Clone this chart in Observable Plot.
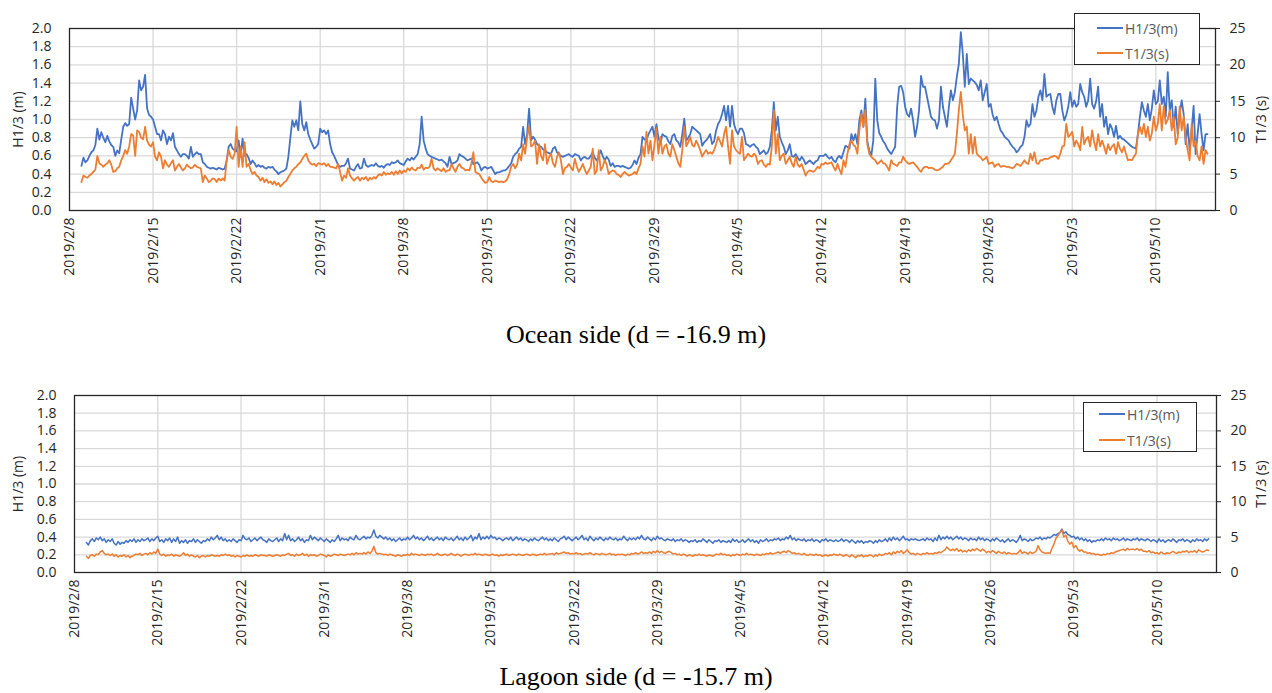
<!DOCTYPE html>
<html><head><meta charset="utf-8">
<script src="https://cdn.jsdelivr.net/npm/d3@7"></script>
<script src="https://cdn.jsdelivr.net/npm/@observablehq/plot@0.6"></script>
<style>
body{margin:0;background:#fff;}
#wrap{position:relative;width:1272px;}
.title{font-family:"Liberation Serif","Times New Roman",serif;font-size:26px;text-align:center;color:#000;}
.legend{position:absolute;border:1.3px solid #262626;background:#fff;box-sizing:border-box;font-family:"Open Sans",sans-serif;font-size:14px;color:#595959;}
.legend .row{position:absolute;left:0;height:20px;display:flex;align-items:center;}
.legend .sw{display:inline-block;width:26px;height:2px;margin-right:2px;}
</style></head>
<body><div id="wrap"></div>
<script>
// ---- data ----
const startDate = "2019-02-09T00:00:00Z";   // first sample
const stepHours = 4;                          // sampling interval
const xDomain = ["2019-02-08", "2019-05-15"];
const dateTicks = ["2019/2/8","2019/2/15","2019/2/22","2019/3/1","2019/3/8","2019/3/15","2019/3/22","2019/3/29","2019/4/5","2019/4/12","2019/4/19","2019/4/26","2019/5/3","2019/5/10"];
const hTicks = [0,0.2,0.4,0.6,0.8,1.0,1.2,1.4,1.6,1.8,2.0];
const tTicks = [0,5,10,15,20,25];
const seriesNames = ["H1/3(m)","T1/3(s)"];
const seriesColors = ["#4472C4","#ED7D31"];
const panelTitles = ["Ocean side (d = -16.9 m)","Lagoon side (d = -15.7 m)"];

const oceanH = [
0.49,0.58,0.53,0.55,0.60,0.64,
0.66,0.72,0.90,0.78,0.86,0.80,
0.75,0.82,0.76,0.72,0.70,0.60,
0.66,0.63,0.78,0.92,0.96,0.93,
0.95,1.24,1.12,1.00,1.10,1.43,
1.32,1.36,1.49,1.12,1.05,1.03,
1.00,0.92,0.84,0.84,0.77,0.88,
0.84,0.73,0.81,0.77,0.85,0.70,
0.66,0.62,0.59,0.62,0.62,0.60,
0.57,0.70,0.59,0.62,0.64,0.62,
0.62,0.53,0.51,0.48,0.47,0.46,
0.47,0.46,0.45,0.47,0.46,0.45,
0.46,0.55,0.70,0.73,0.68,0.66,
0.65,0.77,0.59,0.79,0.60,0.62,
0.58,0.51,0.55,0.52,0.48,0.50,
0.48,0.49,0.47,0.46,0.48,0.47,
0.48,0.45,0.43,0.40,0.42,0.43,
0.44,0.46,0.59,0.80,0.99,0.92,
0.99,0.88,1.20,0.95,0.88,0.97,
0.84,0.78,0.73,0.68,0.70,0.73,
0.90,0.86,0.88,0.84,0.88,0.73,
0.64,0.60,0.55,0.50,0.48,0.49,
0.49,0.52,0.57,0.46,0.45,0.44,
0.48,0.51,0.46,0.47,0.57,0.50,
0.48,0.49,0.50,0.49,0.52,0.49,
0.48,0.49,0.47,0.50,0.51,0.50,
0.53,0.52,0.53,0.55,0.52,0.51,
0.50,0.54,0.57,0.55,0.58,0.56,
0.59,0.62,0.73,1.03,0.77,0.68,
0.62,0.60,0.59,0.58,0.57,0.56,
0.55,0.56,0.54,0.52,0.48,0.59,
0.51,0.52,0.53,0.55,0.62,0.60,
0.59,0.57,0.55,0.56,0.57,0.51,
0.52,0.53,0.50,0.44,0.47,0.48,
0.46,0.47,0.48,0.44,0.40,0.42,
0.42,0.43,0.44,0.44,0.46,0.49,
0.52,0.59,0.62,0.64,0.68,0.70,
0.92,0.73,0.84,1.12,0.77,0.81,
0.78,0.73,0.71,0.70,0.67,0.66,
0.64,0.63,0.62,0.68,0.70,0.64,
0.62,0.60,0.59,0.60,0.61,0.62,
0.60,0.59,0.62,0.61,0.60,0.55,
0.58,0.59,0.57,0.57,0.60,0.64,
0.58,0.55,0.60,0.66,0.60,0.55,
0.59,0.56,0.49,0.52,0.48,0.49,
0.49,0.48,0.49,0.48,0.47,0.46,
0.47,0.50,0.55,0.51,0.58,0.62,
0.81,0.78,0.77,0.84,0.88,0.92,
0.81,0.95,0.80,0.73,0.84,0.82,
0.81,0.76,0.73,0.82,0.84,0.77,
0.75,0.70,0.84,1.01,0.77,0.80,
0.84,0.92,0.90,0.88,0.86,0.84,
0.71,0.75,0.77,0.80,0.84,0.73,
0.76,0.88,0.95,0.99,1.06,1.15,
0.99,1.15,0.92,1.15,0.95,0.88,
0.84,0.90,0.90,0.85,0.73,0.72,
0.70,0.72,0.73,0.70,0.68,0.62,
0.64,0.66,0.62,0.64,0.70,0.88,
1.19,0.88,1.03,0.81,0.75,0.70,
0.62,0.66,0.73,0.60,0.59,0.62,
0.58,0.55,0.59,0.56,0.51,0.53,
0.55,0.53,0.51,0.54,0.55,0.60,
0.60,0.60,0.62,0.59,0.57,0.59,
0.55,0.53,0.58,0.60,0.57,0.64,
0.71,0.70,0.68,0.84,0.77,0.84,
0.73,0.99,1.10,0.92,1.23,0.76,
0.66,0.60,0.77,1.45,0.99,0.85,
0.81,0.76,0.73,0.68,0.65,0.62,
0.66,0.70,1.14,1.36,1.37,1.30,
1.14,1.06,1.03,1.12,0.99,0.81,
0.92,1.10,1.48,1.36,1.36,1.25,
1.14,1.03,1.00,0.99,0.90,0.99,
1.36,1.14,1.03,0.92,1.14,1.32,
1.21,1.30,1.47,1.61,1.96,1.72,
1.36,1.72,1.39,1.45,1.43,1.41,
1.38,1.32,1.43,1.21,1.30,1.39,
1.14,1.17,1.05,0.99,1.03,0.95,
0.88,0.85,0.81,0.79,0.77,0.73,
0.70,0.68,0.64,0.66,0.70,0.72,
0.81,0.99,0.92,0.95,1.17,1.03,
1.10,1.25,1.32,1.21,1.50,1.25,
1.27,1.28,1.14,1.06,1.21,1.28,
1.28,1.10,0.99,1.05,1.14,1.30,
1.14,1.21,1.14,1.17,1.39,1.30,
1.25,1.14,1.21,1.45,1.17,1.12,
1.20,1.36,1.03,1.17,0.92,1.03,
0.84,0.95,0.90,0.81,0.93,0.79,
0.82,0.79,0.78,0.76,0.74,0.72,
0.70,0.69,0.68,0.84,1.03,1.19,
1.10,1.03,1.17,0.99,1.12,1.32,
1.17,1.20,1.43,1.17,1.25,1.03,
1.52,1.10,1.21,0.92,1.14,0.84,
1.06,1.21,1.06,0.73,0.95,0.66,
0.88,1.15,0.62,0.84,1.06,0.84,
0.66,0.84,0.84
];

const oceanT = [
3.9,4.8,4.6,4.5,4.8,5.0,
5.3,5.6,7.5,6.5,6.3,6.0,
6.3,6.5,6.9,6.3,5.3,5.4,
5.8,6.0,6.9,7.5,8.3,7.8,
8.8,10.5,10.3,7.5,11.0,10.8,
10.0,9.8,11.5,9.6,9.0,8.8,
9.4,7.4,6.9,8.0,7.4,5.8,
6.9,6.3,6.0,6.5,6.9,5.5,
6.0,6.4,5.9,5.5,5.8,6.3,
6.0,5.8,5.9,6.3,6.0,5.9,
5.8,3.9,4.8,4.4,3.9,4.1,
4.4,4.3,3.9,4.4,4.1,4.4,
4.1,6.9,8.3,7.4,7.1,7.8,
11.5,6.0,8.8,6.0,9.4,6.0,
6.4,5.6,5.0,5.3,4.8,4.6,
4.1,4.5,3.9,4.3,3.8,4.0,
3.6,4.0,3.5,3.8,3.3,3.6,
3.9,4.1,4.6,5.0,5.5,5.8,
6.0,6.4,6.6,7.1,7.5,7.8,
6.9,6.5,6.3,6.4,6.1,6.5,
6.4,6.3,6.5,6.1,6.4,6.0,
6.0,5.9,5.8,6.4,5.3,4.1,
4.8,4.5,5.8,4.8,4.4,4.1,
4.4,4.6,4.1,4.5,4.3,4.6,
4.1,4.5,4.3,4.6,4.4,4.8,
5.0,4.8,5.3,4.9,5.1,5.0,
5.3,4.9,5.4,5.0,5.5,5.1,
5.5,5.3,5.8,5.5,5.9,5.6,
5.5,5.9,5.8,6.3,5.6,5.9,
5.8,6.0,7.1,5.8,5.5,5.8,
5.6,5.4,5.8,5.3,5.5,5.5,
6.4,5.8,5.3,6.0,6.4,5.9,
5.8,5.5,5.6,5.5,6.5,8.0,
5.3,5.1,5.0,4.5,4.1,3.8,
3.9,4.6,4.0,3.9,4.1,4.0,
3.9,4.0,3.9,4.0,4.3,5.0,
6.0,6.4,5.8,6.3,7.8,6.9,
9.1,7.8,10.0,11.6,8.8,9.0,
9.6,6.4,9.1,7.5,6.9,9.1,
6.4,7.3,7.8,6.5,6.0,7.3,
8.0,6.9,5.0,5.8,6.0,6.4,
5.9,5.5,7.1,6.0,5.3,5.8,
6.4,5.6,5.0,5.5,6.0,8.5,
5.0,5.5,8.3,5.5,6.0,6.9,
6.3,5.0,5.3,5.5,5.4,5.0,
4.9,4.6,5.0,5.3,5.0,4.8,
4.9,5.0,5.3,5.0,5.8,6.4,
8.8,7.4,10.8,7.8,9.6,6.9,
9.0,11.3,7.8,10.1,7.8,8.8,
9.1,7.8,7.4,9.1,8.3,7.4,
6.5,6.0,8.3,11.5,8.8,9.4,
10.1,9.0,8.8,9.6,9.0,8.3,
7.4,7.9,8.3,7.8,8.0,7.8,
8.3,9.1,10.1,9.5,8.8,10.5,
11.5,8.8,6.4,11.0,8.8,8.3,
8.0,7.8,10.1,6.9,7.3,7.8,
7.5,7.4,7.8,7.5,6.4,6.8,
6.9,6.3,6.0,6.4,6.3,8.8,
13.8,7.8,10.5,6.9,7.5,7.8,
6.4,6.9,7.4,6.5,6.0,7.4,
6.3,6.0,6.4,5.6,4.8,5.3,
5.5,5.4,5.3,5.6,6.0,5.8,
6.4,6.3,6.6,6.4,6.5,6.6,
6.0,5.5,6.4,5.6,5.0,6.9,
6.0,7.8,9.1,9.6,9.0,8.8,
7.8,11.0,13.3,11.5,13.8,9.1,
7.8,7.4,7.1,6.9,6.4,6.6,
6.9,6.5,6.4,6.0,5.5,6.9,
6.4,6.3,6.1,6.6,6.6,7.4,
6.9,6.6,6.4,6.5,6.6,6.3,
6.0,5.6,5.3,5.8,6.0,6.0,
5.8,5.9,5.8,5.6,5.5,5.6,
5.8,6.0,6.4,6.4,6.5,6.9,
7.3,7.8,10.5,13.8,16.3,13.1,
11.0,11.5,7.8,10.5,7.8,10.1,
7.8,7.5,7.3,6.9,7.1,7.4,
6.4,6.5,6.6,6.0,6.3,6.4,
6.0,6.1,6.1,6.0,6.0,5.9,
5.8,6.0,6.4,6.3,6.1,6.5,
6.9,6.5,6.4,7.8,6.9,8.0,
6.5,6.4,6.9,6.9,7.1,7.1,
7.1,7.3,7.4,7.5,7.4,7.1,
7.8,8.8,8.9,11.9,10.1,10.4,
10.8,8.8,9.6,9.1,8.3,11.5,
9.1,9.8,10.1,8.8,11.0,9.4,
8.3,10.5,8.8,9.6,8.8,7.8,
9.1,8.3,8.8,9.1,7.8,9.4,
8.5,8.0,8.8,7.8,6.9,7.0,
6.9,7.4,7.8,10.5,11.5,10.5,
11.9,10.1,11.5,9.6,10.6,12.9,
11.0,11.9,14.6,11.0,14.3,11.9,
12.5,13.8,11.0,12.9,9.1,10.0,
14.3,11.0,12.9,10.0,8.3,6.9,
11.9,8.8,9.6,7.5,6.9,8.8,
6.4,8.3,7.8
];

const lagoonH = [
0.34,0.31,0.36,0.38,0.35,0.39,
0.37,0.40,0.36,0.38,0.34,0.37,
0.35,0.38,0.33,0.31,0.35,0.32,
0.34,0.33,0.36,0.34,0.37,0.35,
0.38,0.34,0.37,0.35,0.38,0.36,
0.37,0.39,0.35,0.38,0.36,0.39,
0.41,0.35,0.37,0.34,0.38,0.36,
0.39,0.34,0.38,0.35,0.40,0.33,
0.36,0.34,0.37,0.33,0.36,0.35,
0.38,0.34,0.37,0.35,0.33,0.36,
0.35,0.38,0.36,0.40,0.37,0.39,
0.42,0.37,0.40,0.36,0.38,0.35,
0.37,0.35,0.38,0.36,0.34,0.37,
0.36,0.42,0.38,0.37,0.39,0.35,
0.37,0.39,0.36,0.38,0.40,0.37,
0.36,0.34,0.38,0.36,0.35,0.37,
0.39,0.35,0.38,0.36,0.44,0.37,
0.42,0.36,0.38,0.35,0.37,0.40,
0.36,0.38,0.34,0.37,0.36,0.42,
0.37,0.40,0.38,0.36,0.39,0.37,
0.35,0.38,0.36,0.34,0.37,0.35,
0.38,0.42,0.36,0.39,0.37,0.38,
0.36,0.40,0.38,0.37,0.42,0.38,
0.37,0.39,0.41,0.38,0.40,0.39,
0.42,0.48,0.41,0.39,0.42,0.40,
0.38,0.40,0.37,0.39,0.36,0.38,
0.35,0.37,0.39,0.36,0.38,0.37,
0.40,0.37,0.39,0.42,0.38,0.40,
0.37,0.39,0.36,0.38,0.41,0.37,
0.39,0.36,0.38,0.40,0.37,0.39,
0.36,0.40,0.38,0.37,0.39,0.36,
0.38,0.41,0.37,0.39,0.36,0.40,
0.37,0.39,0.42,0.36,0.40,0.38,
0.44,0.37,0.40,0.38,0.41,0.38,
0.42,0.39,0.40,0.37,0.39,0.38,
0.36,0.38,0.39,0.37,0.40,0.36,
0.38,0.40,0.37,0.39,0.36,0.38,
0.37,0.35,0.38,0.36,0.39,0.37,
0.36,0.38,0.40,0.37,0.39,0.36,
0.38,0.36,0.39,0.37,0.35,0.38,
0.39,0.41,0.37,0.40,0.38,0.36,
0.38,0.40,0.37,0.39,0.42,0.37,
0.39,0.36,0.41,0.38,0.36,0.39,
0.37,0.40,0.38,0.36,0.39,0.37,
0.40,0.38,0.37,0.39,0.36,0.38,
0.37,0.41,0.38,0.36,0.39,0.37,
0.39,0.37,0.40,0.38,0.42,0.38,
0.37,0.40,0.38,0.36,0.39,0.37,
0.41,0.38,0.39,0.37,0.36,0.38,
0.37,0.36,0.38,0.35,0.37,0.36,
0.38,0.35,0.37,0.36,0.34,0.36,
0.35,0.37,0.34,0.36,0.35,0.38,
0.36,0.34,0.37,0.35,0.33,0.36,
0.35,0.37,0.34,0.36,0.35,0.34,
0.36,0.34,0.38,0.35,0.37,0.34,
0.35,0.37,0.34,0.36,0.38,0.35,
0.37,0.34,0.36,0.33,0.37,0.35,
0.36,0.38,0.35,0.37,0.36,0.38,
0.37,0.39,0.36,0.38,0.37,0.40,
0.38,0.42,0.37,0.39,0.36,0.38,
0.37,0.36,0.38,0.35,0.37,0.36,
0.38,0.35,0.37,0.36,0.34,0.37,
0.36,0.38,0.35,0.37,0.36,0.35,
0.37,0.35,0.36,0.38,0.35,0.37,
0.36,0.34,0.37,0.35,0.33,0.36,
0.34,0.36,0.33,0.35,0.34,0.36,
0.35,0.33,0.36,0.34,0.37,0.35,
0.36,0.38,0.35,0.39,0.36,0.40,
0.37,0.39,0.36,0.38,0.41,0.37,
0.38,0.36,0.38,0.37,0.38,0.37,
0.36,0.37,0.38,0.36,0.39,0.37,
0.38,0.35,0.39,0.36,0.42,0.37,
0.40,0.38,0.41,0.38,0.40,0.37,
0.39,0.41,0.38,0.40,0.37,0.39,
0.38,0.36,0.39,0.37,0.38,0.36,
0.40,0.37,0.39,0.36,0.38,0.37,
0.35,0.38,0.36,0.39,0.37,0.35,
0.37,0.34,0.36,0.38,0.35,0.37,
0.36,0.34,0.37,0.42,0.36,0.38,
0.37,0.35,0.38,0.36,0.37,0.39,
0.38,0.40,0.37,0.39,0.38,0.40,
0.39,0.41,0.43,0.42,0.44,0.45,
0.49,0.44,0.46,0.43,0.42,0.40,
0.41,0.38,0.40,0.37,0.39,0.36,
0.38,0.35,0.37,0.34,0.36,0.35,
0.37,0.36,0.38,0.36,0.39,0.37,
0.38,0.36,0.39,0.37,0.38,0.36,
0.37,0.39,0.36,0.38,0.37,0.36,
0.38,0.37,0.39,0.36,0.38,0.37,
0.36,0.38,0.37,0.35,0.37,0.36,
0.34,0.38,0.35,0.37,0.34,0.36,
0.37,0.35,0.38,0.36,0.34,0.37,
0.36,0.38,0.35,0.37,0.36,0.34,
0.37,0.35,0.38,0.36,0.37,0.35,
0.38,0.36,0.38
];

const lagoonT = [
2.3,2.0,2.4,2.5,2.3,2.6,
2.5,2.9,3.1,2.7,2.5,2.6,
2.4,2.6,2.3,2.5,2.2,2.4,
2.3,2.5,2.2,2.4,2.1,2.3,
2.4,2.6,2.5,2.7,2.4,2.6,
2.7,2.5,2.8,2.6,2.9,2.7,
3.3,2.6,2.4,2.6,2.3,2.5,
2.4,2.6,2.3,2.5,2.4,2.3,
2.5,2.8,2.4,2.6,2.3,2.5,
2.3,2.2,2.4,2.1,2.3,2.4,
2.2,2.4,2.3,2.5,2.4,2.3,
2.4,2.3,2.5,2.4,2.6,2.4,
2.5,2.3,2.4,2.2,2.4,2.3,
2.2,2.4,2.3,2.5,2.3,2.4,
2.3,2.5,2.4,2.3,2.5,2.4,
2.4,2.3,2.5,2.4,2.3,2.4,
2.5,2.4,2.3,2.5,2.4,2.6,
2.7,2.4,2.5,2.3,2.6,2.4,
2.5,2.7,2.4,2.6,2.3,2.5,
2.4,2.5,2.3,2.4,2.6,2.5,
2.4,2.2,2.5,2.3,2.4,2.6,
2.5,2.4,2.6,2.5,2.4,2.5,
2.6,2.5,2.7,2.5,2.8,2.6,
2.7,2.6,2.8,2.6,2.9,2.7,
3.0,3.7,2.8,2.6,2.7,2.6,
2.5,2.6,2.4,2.6,2.5,2.4,
2.3,2.5,2.4,2.3,2.5,2.4,
2.6,2.4,2.7,2.5,2.6,2.5,
2.4,2.6,2.5,2.4,2.6,2.5,
2.6,2.4,2.5,2.7,2.5,2.4,
2.5,2.6,2.4,2.5,2.7,2.5,
2.4,2.6,2.5,2.3,2.5,2.6,
2.5,2.4,2.6,2.5,2.7,2.5,
2.6,2.5,2.4,2.6,2.5,2.4,
2.5,2.6,2.4,2.5,2.3,2.5,
2.4,2.5,2.6,2.4,2.5,2.6,
2.5,2.4,2.6,2.5,2.4,2.5,
2.6,2.5,2.4,2.6,2.5,2.4,
2.5,2.6,2.5,2.7,2.5,2.6,
2.6,2.7,2.5,2.8,2.6,2.7,
2.8,2.9,2.7,2.8,2.6,2.7,
2.6,2.8,2.6,2.7,2.5,2.6,
2.7,2.6,2.8,2.6,2.5,2.7,
2.6,2.5,2.7,2.6,2.5,2.6,
2.7,2.5,2.6,2.4,2.6,2.5,
2.6,2.5,2.4,2.6,2.5,2.7,
2.6,2.8,2.6,2.7,2.9,2.7,
2.8,2.7,2.9,2.7,3.0,2.8,
3.1,2.8,3.0,2.8,2.7,2.9,
3.0,2.8,2.6,2.7,2.5,2.6,
2.4,2.6,2.5,2.3,2.5,2.4,
2.3,2.5,2.4,2.6,2.4,2.5,
2.4,2.3,2.5,2.4,2.3,2.5,
2.6,2.5,2.7,2.5,2.6,2.4,
2.5,2.3,2.5,2.4,2.6,2.5,
2.4,2.6,2.5,2.7,2.5,2.6,
2.5,2.4,2.6,2.5,2.4,2.6,
2.5,2.7,2.6,2.8,2.6,2.7,
2.8,2.9,2.7,2.9,3.0,2.8,
3.1,2.9,2.7,2.8,2.6,2.7,
2.6,2.5,2.7,2.5,2.4,2.6,
2.5,2.4,2.6,2.4,2.5,2.3,
2.4,2.5,2.3,2.5,2.4,2.6,
2.5,2.4,2.6,2.4,2.3,2.5,
2.4,2.2,2.5,2.3,2.1,2.4,
2.3,2.5,2.2,2.4,2.3,2.5,
2.4,2.2,2.5,2.3,2.6,2.4,
2.5,2.7,2.6,2.8,2.5,2.9,
2.7,3.0,2.8,3.1,2.7,2.9,
3.2,2.8,2.6,2.7,2.5,2.7,
2.6,2.5,2.7,2.6,2.8,2.6,
2.7,2.6,2.8,2.7,2.9,2.8,
3.0,3.2,3.6,3.3,3.1,3.3,
3.1,3.4,3.0,3.2,2.9,3.1,
2.9,3.2,3.0,3.3,3.1,3.4,
3.2,3.0,3.3,3.1,2.8,3.0,
2.8,3.1,2.9,2.7,3.0,2.8,
2.7,2.9,2.6,2.8,2.7,2.6,
2.7,2.6,2.8,3.2,2.7,2.9,
2.8,2.6,2.9,2.7,2.8,3.0,
3.8,3.2,2.9,2.8,2.7,2.8,
2.7,3.4,4.0,4.8,5.2,5.6,
6.0,5.0,5.3,4.4,4.0,4.3,
3.5,3.8,3.3,3.0,3.2,2.9,
2.9,2.7,2.8,2.6,2.7,2.5,
2.6,2.5,2.4,2.6,2.5,2.7,
2.6,2.8,2.7,2.9,3.0,3.1,
3.2,3.3,3.1,3.4,3.2,3.3,
3.3,3.2,3.4,3.1,3.3,3.0,
3.0,2.9,3.1,2.8,2.9,2.7,
2.8,2.6,2.9,2.7,2.6,2.8,
2.7,2.8,3.0,2.8,2.7,2.9,
2.8,3.0,2.9,3.1,2.8,3.0,
2.9,3.1,2.8,3.2,3.0,2.9,
3.0,3.2,3.1
];

// ---- chart ----
const t0 = new Date(startDate).getTime();
const stepMs = stepHours * 3600 * 1000;
const parseTick = s => { const [y, m, d] = s.split("/").map(Number); return new Date(Date.UTC(y, m - 1, d)); };
const tickDates = dateTicks.map(parseTick);
const fmtTick = d => `${d.getUTCFullYear()}/${d.getUTCMonth() + 1}/${d.getUTCDate()}`;
const ratio = tTicks[tTicks.length - 1] / hTicks[hTicks.length - 1]; // 25 s ↔ 2.0 m

function panel(H, T, o) {
  const rows = H.map((h, i) => ({date: new Date(t0 + i * stepMs), h, t: T[i]}));
  return Plot.plot({
    width: 1272, height: o.height,
    marginLeft: o.ml, marginRight: o.mr, marginTop: o.mt, marginBottom: o.mb,
    style: {fontFamily: '"Open Sans", sans-serif', fontSize: "14px", color: "#262626", background: "white", overflow: "visible"},
    x: {type: "utc", domain: xDomain.map(s => new Date(s + "T00:00:00Z")), axis: null},
    y: {domain: [0, 2], axis: null},
    marks: [
      Plot.gridY(hTicks.slice(1, -1), {stroke: "#d9d9d9", strokeOpacity: 1, strokeWidth: 1.3}),
      Plot.gridX(tickDates.slice(1), {stroke: "#d9d9d9", strokeOpacity: 1, strokeWidth: 1.3}),
      Plot.line(rows, {x: "date", y: "h", stroke: seriesColors[0], strokeWidth: o.sw}),
      Plot.line(rows, {x: "date", y: d => d.t / ratio, stroke: seriesColors[1], strokeWidth: o.sw}),
      Plot.frame({stroke: "#262626", strokeWidth: 1.3}),
      Plot.axisY(hTicks, {anchor: "left", tickSize: 0, tickPadding: 18, tickFormat: d => d.toFixed(1),
        label: "H1/3 (m)", labelAnchor: "center", labelArrow: "none", labelOffset: o.ml - 13}),
      Plot.axisY(tTicks, {anchor: "right", y: d => d / ratio, tickSize: 4, tickPadding: 10, tickFormat: d => String(d),
        label: "T1/3 (s)", labelAnchor: "center", labelArrow: "none", labelOffset: o.rl}),
      Plot.axisX(tickDates, {anchor: "bottom", tickSize: 0, tickPadding: 7, tickRotate: -90, tickFormat: fmtTick})
    ]
  });
}

function legend(pos) {
  const box = document.createElement("div");
  box.className = "legend";
  Object.assign(box.style, {left: pos.x + "px", top: pos.y + "px", width: pos.w + "px", height: pos.h + "px"});
  seriesNames.forEach((name, i) => {
    const row = document.createElement("div");
    row.className = "row";
    Object.assign(row.style, {left: pos.lx + "px", top: (pos.ry[i] - 10) + "px"});
    const sw = document.createElement("span");
    sw.className = "sw"; sw.style.background = seriesColors[i];
    const tx = document.createElement("span"); tx.textContent = name;
    row.append(sw, tx);
    box.append(row);
  });
  return box;
}

const wrap = document.getElementById("wrap");
const p1 = panel(oceanH, oceanT, {height: 300, ml: 69, mr: 57, mt: 28, mb: 90, sw: 1.8, rl: 50});
wrap.append(p1);
const t1 = document.createElement("div"); t1.className = "title"; t1.textContent = panelTitles[0];
Object.assign(t1.style, {height: "70px", lineHeight: "70px"});
wrap.append(t1);
const p2 = panel(lagoonH, lagoonT, {height: 290, ml: 74, mr: 56, mt: 25, mb: 88, sw: 1.5, rl: 49});
wrap.append(p2);
const t2 = document.createElement("div"); t2.className = "title"; t2.textContent = panelTitles[1];
Object.assign(t2.style, {height: "34px", lineHeight: "34px"});
wrap.append(t2);

wrap.append(legend({x: 1074, y: 13, w: 126, h: 52, lx: 22, ry: [14, 39]}));
wrap.append(legend({x: 1083, y: 402, w: 114, h: 50, lx: 15, ry: [11, 37]}));
</script>
</body></html>
